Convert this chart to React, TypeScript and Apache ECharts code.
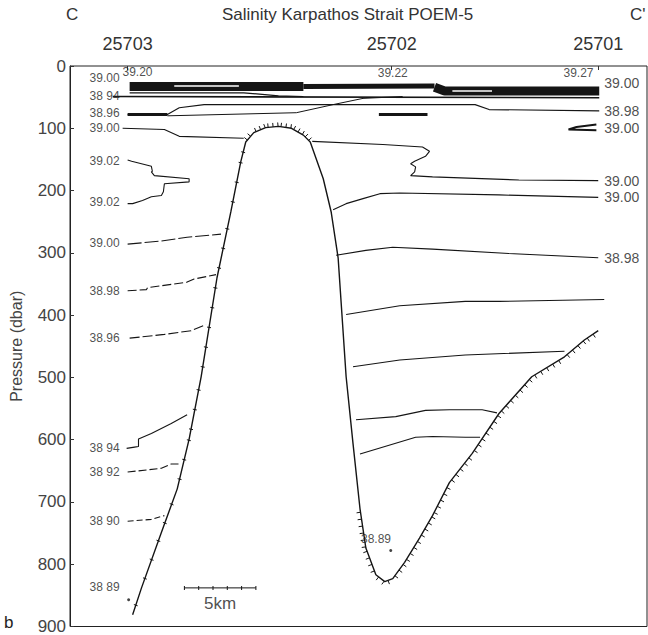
import React, { useEffect, useRef } from "react";
import * as echarts from "echarts";

// ---- data (distance in km along section, pressure in dbar) ----
const stationNames = ["25703", "25702", "25701"];
const stationKm = [4.03, 22.5, 36.94];

// bottom profile (seamount + trough + slope)
const bottomProfile: number[][] = [
  [4.38, 881], [5.0, 838], [6.39, 749], [7.5, 679], [8.33, 599], [9.17, 499],
  [10.28, 340], [11.25, 234], [11.94, 154], [12.29, 122], [12.85, 107], [13.68, 99],
  [14.58, 97], [15.49, 100], [16.32, 111], [16.8, 122], [17.71, 181], [18.26, 234],
  [18.75, 308], [19.31, 499], [19.79, 606], [20.28, 711], [20.69, 774], [21.39, 817],
  [22.01, 828], [22.57, 823], [23.4, 797], [24.44, 758], [25.35, 722], [26.53, 669],
  [28.13, 622], [30.0, 558], [32.29, 499], [34.58, 467], [35.97, 440], [36.94, 425],
];
const flankRange = [0, 9];
const crestRange = [9, 15];
const troughRange = [21, 35];

// salinity-maximum band near the surface
const bandLeft = [[4.17, 33], [16.32, 33]];
const bandMid = [[16.32, 33], [25.49, 32]];
const bandRight = [[25.49, 34], [26.2, 40], [37.01, 40]];
const bandGapLeft = [[7.29, 32], [11.81, 32]];
const bandGapRight = [[26.74, 40], [29.51, 40]];

// individual isohalines
const iso3894Top = [[2.99, 49], [37.01, 51]];
const iso3894Inner = [[4.17, 43], [12.15, 43], [14.58, 48], [16.32, 49]];
const iso3898Top = [[4.03, 78], [6.81, 78], [7.64, 67], [9.38, 62], [28.33, 62], [29.31, 70], [37.01, 72]];
const iso3896Thick = [[4.03, 78], [6.81, 78]];
const isoCrossing = [[6.81, 80], [15.83, 75], [18.4, 62], [20.49, 52], [23.26, 49]];
const lensMid = [[21.6, 78], [25.0, 78]];
const lensRight = [[36.81, 94], [35.42, 98], [34.86, 102], [36.81, 103]];
const iso3900West = [[3.68, 100], [6.6, 102], [7.64, 113], [12.15, 116]];
const iso3900East = [
  [16.94, 121], [21.88, 126], [24.65, 130], [25.14, 137], [24.86, 145], [24.1, 153],
  [23.82, 157], [24.17, 162], [24.1, 170], [23.82, 176], [25.35, 178], [31.39, 183], [36.94, 184],
];
const iso3902 = [
  [4.03, 151], [4.31, 153], [5.69, 161], [5.76, 169], [5.69, 170], [5.9, 176], [8.33, 181],
  [8.33, 186], [6.6, 189], [6.53, 202], [6.39, 208], [5.69, 210], [5.07, 216], [4.38, 221], [4.03, 221],
];
const iso3900Left = [[4.03, 286], [6.39, 281], [8.19, 275], [10.56, 270]];
const iso3900Right = [[18.4, 231], [19.31, 221], [20.49, 213], [21.67, 205], [23.06, 204], [30.0, 207], [36.94, 211]];
const iso3898Left = [[4.03, 361], [5.35, 359], [5.42, 356], [8.19, 347], [8.68, 342], [10.21, 335]];
const iso3898Right = [[18.61, 304], [20.69, 296], [22.57, 291], [25.35, 294], [30.69, 301], [36.94, 308]];
const iso3896Left = [[4.17, 437], [6.6, 431], [8.47, 425], [9.51, 415]];
const iso3896Right = [[19.31, 399], [23.06, 385], [27.64, 378], [30.0, 378], [37.36, 375]];
const iso3894Right = [[19.79, 483], [23.06, 472], [27.64, 464], [34.58, 458]];
const iso3892Right = [[20.0, 568], [22.78, 563], [24.86, 553], [26.53, 552], [28.82, 552], [29.86, 557]];
const iso3890Right = [[20.28, 623], [24.17, 596], [25.35, 595], [27.64, 596], [28.68, 596]];
const iso3894Left = [[3.96, 614], [4.51, 612], [4.79, 611], [4.79, 599], [5.69, 590], [7.08, 574], [8.19, 560]];
const iso3892Left = [[4.03, 652], [6.39, 646], [7.08, 639], [7.64, 639]];
const iso3890Left = [[4.03, 731], [5.69, 728], [6.6, 722]];
const minDots = [[4.1, 857], [22.43, 778]];

// contour labels
const leftLabels: (number | string)[][] = [
  [3.61, 19, "39.00"], [3.61, 48, "38 94"], [3.61, 76, "38.96"], [3.61, 100, "39.00"],
  [3.61, 153, "39.02"], [3.61, 218, "39.02"], [3.61, 285, "39.00"], [3.61, 361, "38.98"],
  [3.61, 437, "38.96"], [3.61, 614, "38 94"], [3.61, 652, "38 92"], [3.61, 730, "38 90"],
  [3.61, 836, "38 89"],
];
const rightLabels: (number | string)[][] = [
  [37.15, 27, "39.00"], [37.15, 73, "38.98"], [37.15, 99, "39.00"],
  [37.15, 184, "39.00"], [37.15, 210, "39.00"], [37.15, 308, "38.98"],
];
const topLabels: (number | string)[][] = [
  [4.72, 10, "39.20"], [22.57, 11, "39.22"], [35.56, 11, "39.27"],
];
const troughLabel: (number | string)[][] = [[21.4, 760, "38.89"]];
const scaleBar = [[8, 838], [9, 838], [10, 838], [11, 838], [12, 838], [13, 838]];
const scaleLabel: (number | string)[][] = [[10.5, 863, "5km"]];

const FONT = "'Liberation Sans', Arial, sans-serif";
const INK = "#151515";

function line(data: number[][], width = 1.1, color = INK, dash: any = "solid", z = 2) {
  return {
    type: "line",
    data,
    showSymbol: false,
    silent: true,
    z,
    lineStyle: { color, width, type: dash, cap: "butt" },
  };
}

function hatch(range: number[], side: number, gap: number, len: number, cross: boolean) {
  const pts = bottomProfile.slice(range[0], range[1] + 1);
  return {
    type: "custom",
    coordinateSystem: "cartesian2d",
    silent: true,
    z: 3,
    data: pts,
    renderItem: (params: any, api: any) => {
      const i = params.dataIndex;
      if (i >= pts.length - 1) return null;
      const a = api.coord(pts[i]);
      const b = api.coord(pts[i + 1]);
      const dx = b[0] - a[0];
      const dy = b[1] - a[1];
      const L = Math.hypot(dx, dy);
      if (L < 0.5) return null;
      const ux = dx / L, uy = dy / L;
      const nx = -uy * side, ny = ux * side;
      const children: any[] = [];
      for (let t = gap / 2; t < L; t += gap) {
        const px = a[0] + ux * t, py = a[1] + uy * t;
        const s = cross ? -len / 2 : 0;
        const e = cross ? len / 2 : len;
        children.push({
          type: "line",
          shape: { x1: px + nx * s, y1: py + ny * s, x2: px + nx * e, y2: py + ny * e },
          style: { stroke: INK, lineWidth: 1 },
        });
      }
      return { type: "group", children };
    },
  };
}

function labels(data: (number | string)[][], position: string, size: number, distance = 2) {
  return {
    type: "scatter",
    data,
    symbolSize: 0,
    silent: true,
    z: 5,
    label: {
      show: true,
      position,
      distance,
      formatter: (p: any) => p.value[2],
      fontFamily: FONT,
      fontSize: size,
      color: "#222",
    },
  };
}

export default function App() {
  const ref = useRef<HTMLDivElement>(null);
  useEffect(() => {
    document.body.style.margin = "0";
    if (!ref.current) return;
    const chart = echarts.init(ref.current, null, { renderer: "svg" });
    const option: any = {
      animation: false,
      backgroundColor: "#ffffff",
      grid: { left: 66, right: 1, top: 66, bottom: 4, show: true, borderColor: "#222", borderWidth: 1 },
      xAxis: {
        type: "value",
        position: "top",
        min: 0,
        max: 40.35,
        axisLine: { show: false },
        splitLine: { show: false },
        axisTick: { show: true, inside: true, length: 4, customValues: stationKm, lineStyle: { color: "#333" } },
        axisLabel: {
          show: true,
          customValues: stationKm,
          margin: 13,
          fontFamily: FONT,
          fontSize: 18,
          color: "#333",
          formatter: (v: number) => {
            const i = stationKm.findIndex((s) => Math.abs(s - v) < 0.01);
            return i >= 0 ? stationNames[i] : "";
          },
        },
      },
      yAxis: {
        type: "value",
        inverse: true,
        min: 0,
        max: 900,
        interval: 100,
        name: "Pressure (dbar)",
        nameLocation: "middle",
        nameGap: 46,
        nameTextStyle: { fontFamily: FONT, fontSize: 16, color: "#444" },
        axisLine: { show: true, lineStyle: { color: "#222", width: 1 } },
        axisTick: { show: true, inside: true, length: 4, lineStyle: { color: "#333" } },
        splitLine: { show: false },
        axisLabel: { fontFamily: FONT, fontSize: 17, color: "#444", margin: 4 },
      },
      graphic: [
        { type: "text", left: 222, top: 6, style: { text: "Salinity Karpathos Strait POEM-5", fontFamily: FONT, fontSize: 17, fill: "#333" } },
        { type: "text", left: 66, top: 6, style: { text: "C", fontFamily: FONT, fontSize: 17, fill: "#333" } },
        { type: "text", left: 630, top: 6, style: { text: "C'", fontFamily: FONT, fontSize: 17, fill: "#333" } },
        { type: "text", left: 4, top: 614, style: { text: "b", fontFamily: FONT, fontSize: 17, fill: "#222" } },
      ],
      series: [
        // surface band
        line(bandLeft, 9),
        line(bandMid, 5),
        line(bandRight, 9),
        line(bandGapLeft, 1.5, "#ffffff", "solid", 3),
        line(bandGapRight, 1.5, "#ffffff", "solid", 3),
        line(iso3894Top, 1.6),
        line(iso3894Inner, 1.2),
        line(iso3898Top, 1.1),
        line(iso3896Thick, 3),
        line(isoCrossing, 1),
        line(lensMid, 3),
        line(lensRight, 2),
        line(iso3900West, 1.1),
        line(iso3900East, 1.1),
        line(iso3902, 1.1),
        line(iso3900Left, 1.1, INK, [14, 3]),
        line(iso3900Right, 1.1),
        line(iso3898Left, 1.1, INK, [9, 3]),
        line(iso3898Right, 1.1),
        line(iso3896Left, 1.1, INK, [10, 3]),
        line(iso3896Right, 1.1),
        line(iso3894Right, 1.1),
        line(iso3892Right, 1.1),
        line(iso3890Right, 1.1),
        line(iso3894Left, 1.1),
        line(iso3892Left, 1.1, INK, [8, 3]),
        line(iso3890Left, 1.1, INK, [6, 3]),
        // bottom
        line(bottomProfile, 1.4, INK, "solid", 4),
        hatch(flankRange, 1, 20, 4, true),
        hatch(crestRange, -1, 5, 4, false),
        hatch(troughRange, 1, 7, 4, false),
        {
          type: "scatter",
          data: minDots,
          symbolSize: 3,
          silent: true,
          itemStyle: { color: INK },
        },
        {
          type: "line",
          data: scaleBar,
          silent: true,
          showSymbol: true,
          symbol: "rect",
          symbolSize: [1, 4],
          itemStyle: { color: INK },
          lineStyle: { color: INK, width: 1 },
        },
        labels(leftLabels, "left", 12),
        labels(rightLabels, "right", 14, 3),
        labels(topLabels, "inside", 12, 0),
        labels(troughLabel, "inside", 12, 0),
        labels(scaleLabel, "inside", 17, 0),
      ],
    };
    chart.setOption(option);
    return () => chart.dispose();
  }, []);
  return <div ref={ref} style={{ width: 648, height: 635 }} />;
}
